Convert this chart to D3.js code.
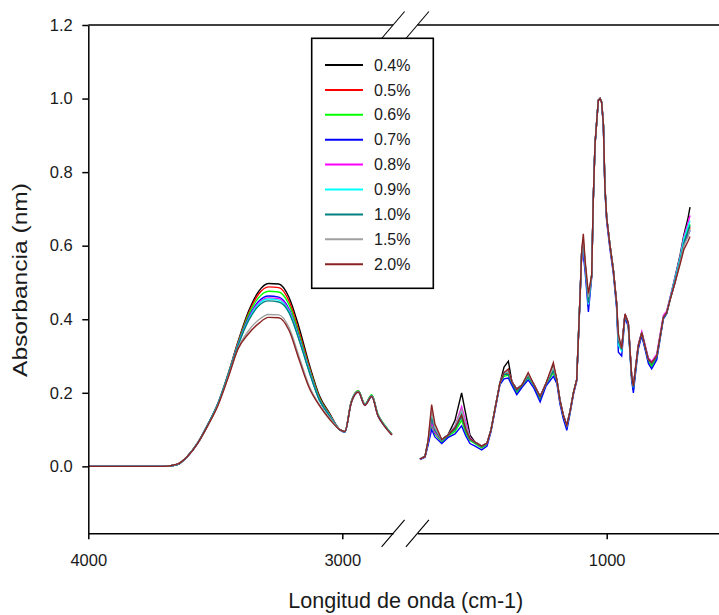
<!DOCTYPE html>
<html>
<head>
<meta charset="utf-8">
<script src="https://cdn.jsdelivr.net/npm/d3@7"></script>
<style>
  body { margin: 0; background: #fff; }
  svg { display: block; font-family: Arial, "Liberation Sans", sans-serif; }
</style>
</head>
<body>
<svg id="chart" width="719" height="615"></svg>
<script>
// wavenumbers (cm-1) for the two parts of the broken axis
const wnL = [4000, 3700, 3650, 3610, 3570, 3530, 3490, 3450, 3410, 3370, 3330, 3290, 3250, 3210, 3170, 3130, 3090, 3050, 3010, 2990, 2965, 2937, 2911, 2884, 2860, 2835, 2805]
const wnR = [1735, 1715, 1703, 1689, 1676, 1649, 1625, 1597, 1571, 1554,
             1538, 1518, 1492, 1471, 1455, 1440, 1420, 1404, 1387, 1373,
             1354, 1333, 1309, 1286, 1262, 1239, 1210, 1196, 1184, 1171,
             1157, 1144, 1131, 1118, 1112, 1105, 1098, 1092, 1085, 1072,
             1059, 1053, 1046, 1039, 1033, 1026, 1020, 1013, 1007, 1000,
             987, 974, 961, 954, 941, 928, 915, 902, 895, 876,
             862, 849, 836, 823, 803, 790, 777, 764, 751, 731,
             711, 696, 680, 672]

const labels = ['0.4%', '0.5%', '0.6%', '0.7%', '0.8%', '0.9%', '1.0%', '1.5%', '2.0%']
const colors = ['#000000', '#ff0000', '#00ff00', '#0000ff', '#ff00ff', '#00ffff', '#008080', '#a0a0a0', '#8b2323']

const left04 = [0, 0, 0.005, 0.027, 0.063, 0.113, 0.17, 0.25, 0.34, 0.42, 0.475, 0.497, 0.496, 0.46, 0.377, 0.277, 0.192, 0.144, 0.1, 0.094, 0.175, 0.205, 0.168, 0.193, 0.14, 0.113, 0.087]
const left05 = [0, 0, 0.005, 0.027, 0.063, 0.113, 0.17, 0.25, 0.338, 0.415, 0.468, 0.488, 0.486, 0.45, 0.366, 0.271, 0.188, 0.142, 0.1, 0.094, 0.175, 0.205, 0.168, 0.193, 0.14, 0.113, 0.087]
const left06 = [0, 0, 0.005, 0.027, 0.063, 0.113, 0.17, 0.249, 0.335, 0.41, 0.458, 0.476, 0.474, 0.44, 0.358, 0.266, 0.185, 0.14, 0.1, 0.094, 0.176, 0.206, 0.17, 0.195, 0.142, 0.114, 0.088]
const left07 = [0, 0, 0.005, 0.027, 0.062, 0.112, 0.168, 0.247, 0.332, 0.403, 0.448, 0.463, 0.46, 0.428, 0.35, 0.26, 0.181, 0.138, 0.099, 0.093, 0.172, 0.202, 0.166, 0.19, 0.138, 0.111, 0.086]
const left08 = [0, 0, 0.005, 0.027, 0.063, 0.113, 0.17, 0.248, 0.332, 0.4, 0.444, 0.458, 0.456, 0.425, 0.348, 0.26, 0.181, 0.138, 0.1, 0.094, 0.174, 0.204, 0.168, 0.192, 0.14, 0.112, 0.087]
const left09 = [0, 0, 0.005, 0.027, 0.063, 0.113, 0.17, 0.248, 0.331, 0.398, 0.441, 0.455, 0.452, 0.422, 0.346, 0.258, 0.18, 0.138, 0.1, 0.094, 0.174, 0.204, 0.168, 0.192, 0.14, 0.112, 0.087]
const left10 = [0, 0, 0.005, 0.027, 0.063, 0.113, 0.17, 0.248, 0.33, 0.395, 0.436, 0.45, 0.447, 0.418, 0.343, 0.256, 0.18, 0.137, 0.1, 0.094, 0.174, 0.204, 0.168, 0.192, 0.14, 0.112, 0.087]
const left15 = [0, 0, 0.006, 0.027, 0.062, 0.11, 0.166, 0.242, 0.322, 0.368, 0.398, 0.413, 0.412, 0.378, 0.298, 0.218, 0.168, 0.132, 0.1, 0.095, 0.173, 0.203, 0.167, 0.191, 0.139, 0.111, 0.086]
const left20 = [0, 0, 0.006, 0.027, 0.062, 0.11, 0.165, 0.24, 0.32, 0.36, 0.388, 0.405, 0.404, 0.37, 0.29, 0.213, 0.165, 0.128, 0.1, 0.095, 0.172, 0.202, 0.166, 0.19, 0.138, 0.11, 0.085]

const right04 = [0.02, 0.027, 0.065, 0.118, 0.09, 0.072, 0.085, 0.125, 0.2, 0.14,
  0.085, 0.066, 0.055, 0.063, 0.1, 0.155, 0.227, 0.27, 0.286, 0.23,
  0.21, 0.222, 0.248, 0.222, 0.188, 0.225, 0.275, 0.235, 0.18, 0.14,
  0.11, 0.15, 0.2, 0.236, 0.34, 0.46, 0.59, 0.61, 0.55, 0.45,
  0.52, 0.72, 0.875, 0.94, 0.995, 1.0, 0.99, 0.93, 0.76, 0.675,
  0.6, 0.535, 0.44, 0.34, 0.32, 0.414, 0.39, 0.248, 0.215, 0.327,
  0.364, 0.327, 0.291, 0.278, 0.3, 0.352, 0.405, 0.418, 0.455, 0.515,
  0.575, 0.63, 0.675, 0.705]
const right05 = [0.02, 0.027, 0.065, 0.125, 0.095, 0.072, 0.085, 0.105, 0.148, 0.105,
  0.075, 0.066, 0.055, 0.063, 0.1, 0.155, 0.227, 0.25, 0.255, 0.23,
  0.209, 0.222, 0.245, 0.222, 0.19, 0.225, 0.26, 0.235, 0.18, 0.14,
  0.112, 0.15, 0.2, 0.236, 0.34, 0.46, 0.59, 0.595, 0.55, 0.44,
  0.52, 0.72, 0.875, 0.94, 0.995, 1.0, 0.99, 0.93, 0.76, 0.675,
  0.6, 0.535, 0.445, 0.335, 0.32, 0.414, 0.39, 0.248, 0.218, 0.327,
  0.364, 0.327, 0.291, 0.282, 0.3, 0.352, 0.405, 0.418, 0.452, 0.505,
  0.562, 0.605, 0.635, 0.65]
const right06 = [0.02, 0.027, 0.062, 0.115, 0.088, 0.066, 0.082, 0.095, 0.125, 0.09,
  0.07, 0.062, 0.05, 0.06, 0.1, 0.155, 0.227, 0.245, 0.248, 0.225,
  0.2, 0.218, 0.242, 0.218, 0.182, 0.222, 0.255, 0.23, 0.178, 0.135,
  0.105, 0.148, 0.2, 0.236, 0.34, 0.46, 0.59, 0.59, 0.55, 0.435,
  0.52, 0.72, 0.875, 0.94, 0.995, 1.0, 0.99, 0.93, 0.76, 0.675,
  0.6, 0.535, 0.44, 0.33, 0.315, 0.41, 0.385, 0.24, 0.208, 0.322,
  0.36, 0.322, 0.286, 0.272, 0.295, 0.35, 0.405, 0.418, 0.455, 0.508,
  0.565, 0.615, 0.645, 0.658]
const right07 = [0.018, 0.025, 0.058, 0.1, 0.08, 0.062, 0.078, 0.088, 0.11, 0.082,
  0.062, 0.055, 0.045, 0.055, 0.095, 0.15, 0.222, 0.238, 0.24, 0.22,
  0.195, 0.215, 0.235, 0.212, 0.175, 0.218, 0.245, 0.225, 0.17, 0.13,
  0.098, 0.145, 0.195, 0.232, 0.335, 0.455, 0.585, 0.575, 0.53, 0.42,
  0.515, 0.72, 0.875, 0.94, 0.995, 1.0, 0.99, 0.925, 0.75, 0.665,
  0.59, 0.525, 0.43, 0.31, 0.3, 0.405, 0.38, 0.235, 0.2, 0.318,
  0.355, 0.318, 0.28, 0.265, 0.29, 0.345, 0.4, 0.415, 0.452, 0.5,
  0.56, 0.605, 0.628, 0.642]
const right08 = [0.02, 0.027, 0.065, 0.12, 0.092, 0.07, 0.085, 0.11, 0.162, 0.12,
  0.078, 0.066, 0.055, 0.063, 0.1, 0.155, 0.227, 0.255, 0.262, 0.23,
  0.209, 0.222, 0.248, 0.222, 0.19, 0.225, 0.262, 0.235, 0.18, 0.14,
  0.112, 0.15, 0.2, 0.236, 0.34, 0.46, 0.59, 0.59, 0.55, 0.44,
  0.52, 0.72, 0.875, 0.94, 0.995, 1.0, 0.99, 0.93, 0.76, 0.675,
  0.6, 0.535, 0.445, 0.335, 0.32, 0.414, 0.39, 0.248, 0.218, 0.33,
  0.366, 0.33, 0.295, 0.285, 0.305, 0.358, 0.41, 0.422, 0.458, 0.512,
  0.57, 0.625, 0.662, 0.682]
const right09 = [0.02, 0.027, 0.068, 0.138, 0.1, 0.072, 0.085, 0.108, 0.15, 0.11,
  0.075, 0.066, 0.055, 0.063, 0.1, 0.155, 0.227, 0.252, 0.258, 0.23,
  0.209, 0.222, 0.25, 0.222, 0.19, 0.225, 0.265, 0.235, 0.18, 0.14,
  0.112, 0.15, 0.2, 0.236, 0.34, 0.46, 0.59, 0.6, 0.55, 0.44,
  0.52, 0.72, 0.875, 0.94, 0.995, 1.0, 0.99, 0.93, 0.76, 0.675,
  0.6, 0.535, 0.44, 0.33, 0.315, 0.412, 0.388, 0.245, 0.215, 0.327,
  0.364, 0.327, 0.291, 0.28, 0.3, 0.352, 0.405, 0.418, 0.455, 0.51,
  0.568, 0.62, 0.652, 0.668]
const right10 = [0.02, 0.027, 0.068, 0.132, 0.098, 0.072, 0.085, 0.1, 0.135, 0.098,
  0.073, 0.064, 0.053, 0.062, 0.1, 0.155, 0.227, 0.25, 0.25, 0.228,
  0.205, 0.22, 0.245, 0.22, 0.188, 0.223, 0.26, 0.233, 0.178, 0.138,
  0.11, 0.15, 0.2, 0.236, 0.34, 0.46, 0.59, 0.605, 0.55, 0.445,
  0.52, 0.72, 0.875, 0.94, 0.995, 1.0, 0.99, 0.93, 0.76, 0.675,
  0.6, 0.535, 0.445, 0.34, 0.318, 0.412, 0.388, 0.246, 0.216, 0.325,
  0.362, 0.325, 0.289, 0.28, 0.298, 0.35, 0.403, 0.416, 0.452, 0.505,
  0.56, 0.608, 0.64, 0.655]
const right15 = [0.02, 0.027, 0.07, 0.15, 0.105, 0.073, 0.085, 0.108, 0.155, 0.11,
  0.075, 0.066, 0.055, 0.063, 0.1, 0.155, 0.227, 0.255, 0.26, 0.23,
  0.209, 0.222, 0.25, 0.222, 0.19, 0.225, 0.27, 0.235, 0.18, 0.14,
  0.112, 0.15, 0.2, 0.236, 0.34, 0.46, 0.59, 0.62, 0.555, 0.46,
  0.52, 0.72, 0.875, 0.94, 0.995, 1.0, 0.99, 0.93, 0.76, 0.675,
  0.6, 0.535, 0.445, 0.35, 0.32, 0.414, 0.39, 0.248, 0.218, 0.327,
  0.364, 0.327, 0.291, 0.282, 0.3, 0.352, 0.405, 0.418, 0.452, 0.5,
  0.555, 0.6, 0.625, 0.645]
const right20 = [0.02, 0.027, 0.07, 0.168, 0.115, 0.073, 0.085, 0.105, 0.14, 0.1,
  0.075, 0.066, 0.055, 0.063, 0.1, 0.155, 0.227, 0.255, 0.265, 0.23,
  0.209, 0.222, 0.255, 0.222, 0.19, 0.225, 0.282, 0.235, 0.18, 0.14,
  0.112, 0.15, 0.2, 0.236, 0.34, 0.46, 0.59, 0.632, 0.56, 0.47,
  0.52, 0.72, 0.875, 0.94, 0.995, 1.0, 0.99, 0.93, 0.76, 0.675,
  0.6, 0.535, 0.445, 0.36, 0.32, 0.414, 0.39, 0.248, 0.218, 0.327,
  0.364, 0.327, 0.291, 0.282, 0.3, 0.352, 0.405, 0.418, 0.452, 0.5,
  0.55, 0.59, 0.612, 0.625]

const leftData = [left04, left05, left06, left07, left08, left09, left10, left15, left20]
const rightData = [right04, right05, right06, right07, right08, right09, right10, right15, right20]

const yTicks = [0, 0.2, 0.4, 0.6, 0.8, 1.0, 1.2]
const xTicksL = [4000, 3000]
const xTicksR = [1000]

let svg = d3.select('#chart')

let y = d3.scaleLinear().domain([-0.182, 1.2]).range([533.3, 25])
let xL = d3.scaleLinear().domain([4000, 2800]).range([88.3, 393.1])
let xR = d3.scaleLinear().domain([1745, 558]).range([417.4, 719])

// spectra
const series = labels.map((name, i) => {
    return {
        name: name,
        color: colors[i],
        left: wnL.map((w, j) => [w, leftData[i][j]]),
        right: wnR.map((w, j) => [w, rightData[i][j]])
    }
})

// the broad left band is smooth, the fingerprint part stays jagged
const lineL = d3.line().x(d => xL(d[0])).y(d => y(d[1])).curve(d3.curveMonotoneX)
const lineR = d3.line().x(d => xR(d[0])).y(d => y(d[1]))

let plot = svg.append('g')
series.forEach(s => {
    plot.append('path')
        .attr('d', lineL(s.left))
        .attr('fill', 'none')
        .attr('stroke', s.color)
        .attr('stroke-width', 1.4)
    plot.append('path')
        .attr('d', lineR(s.right))
        .attr('fill', 'none')
        .attr('stroke', s.color)
        .attr('stroke-width', 1.4)
})

// axes
let yAxis = d3.axisLeft(y)
    .tickValues(yTicks)
    .tickFormat(d3.format('.1f'))
    .tickSize(6)
    .tickSizeOuter(0)
    .tickPadding(9.5)

let axY = svg.append('g')
    .attr('transform', `translate(${xL.range()[0]},0)`)
    .call(yAxis)

let axBL = svg.append('g')
    .attr('transform', `translate(0,${y.range()[0]})`)
    .call(d3.axisBottom(xL).tickValues(xTicksL).tickFormat(d3.format('d')).tickSize(6).tickSizeOuter(0).tickPadding(14.5))

let axBR = svg.append('g')
    .attr('transform', `translate(0,${y.range()[0]})`)
    .call(d3.axisBottom(xR).tickValues(xTicksR).tickFormat(d3.format('d')).tickSize(6).tickSizeOuter(0).tickPadding(14.5))

svg.selectAll('.domain, .tick line')
    .attr('stroke', '#000')
    .attr('stroke-width', 1.5)
svg.selectAll('.tick text')
    .attr('fill', '#1a1a1a')
    .style('font-size', '16.5px')
    .style('font-family', 'Arial, "Liberation Sans", sans-serif')

// top frame line, broken as well
let topY = y.range()[1]
svg.append('line')
    .attr('x1', xL.range()[0]).attr('x2', xL.range()[1])
    .attr('y1', topY).attr('y2', topY)
    .attr('stroke', '#000').attr('stroke-width', 1.5)
svg.append('line')
    .attr('x1', xR.range()[0]).attr('x2', xR.range()[1])
    .attr('y1', topY).attr('y2', topY)
    .attr('stroke', '#000').attr('stroke-width', 1.5)

// break marks
const breakXs = [xL.range()[1], xR.range()[0]]
const breakYs = [topY, y.range()[0]]
breakYs.forEach(by => {
    breakXs.forEach(bx => {
        svg.append('line')
            .attr('x1', bx - 11.5).attr('y1', by + 13.5)
            .attr('x2', bx + 11.5).attr('y2', by - 13.5)
            .attr('stroke', '#000').attr('stroke-width', 1.1)
    })
})

// axis titles
svg.append('text')
    .attr('x', 405.8)
    .attr('y', 608)
    .attr('text-anchor', 'middle')
    .attr('textLength', 235)
    .attr('lengthAdjust', 'spacingAndGlyphs')
    .style('font-size', '22px')
    .attr('fill', '#1a1a1a')
    .text('Longitud de onda (cm-1)')

svg.append('text')
    .attr('transform', 'translate(27,280) rotate(-90)')
    .attr('text-anchor', 'middle')
    .attr('textLength', 194)
    .attr('lengthAdjust', 'spacingAndGlyphs')
    .style('font-size', '20px')
    .attr('fill', '#1a1a1a')
    .text('Absorbancia (nm)')

// legend
let legend = svg.append('g')
legend.append('rect')
    .attr('x', 311.7).attr('y', 38.3)
    .attr('width', 121.6).attr('height', 250)
    .attr('fill', '#fff')
    .attr('stroke', '#000')
    .attr('stroke-width', 1.6)

let rows = legend.selectAll('g.row')
    .data(series)
    .enter()
    .append('g')
    .attr('class', 'row')
    .attr('transform', (d, i) => `translate(0,${65 + i * 24.9})`)

rows.append('line')
    .attr('x1', 325).attr('x2', 363)
    .attr('y1', 0).attr('y2', 0)
    .attr('stroke', d => d.color)
    .attr('stroke-width', 2)

rows.append('text')
    .attr('x', 374)
    .attr('y', 0)
    .attr('dy', '0.35em')
    .style('font-size', '16px')
    .attr('fill', '#1a1a1a')
    .text(d => d.name)
</script>
</body>
</html>
